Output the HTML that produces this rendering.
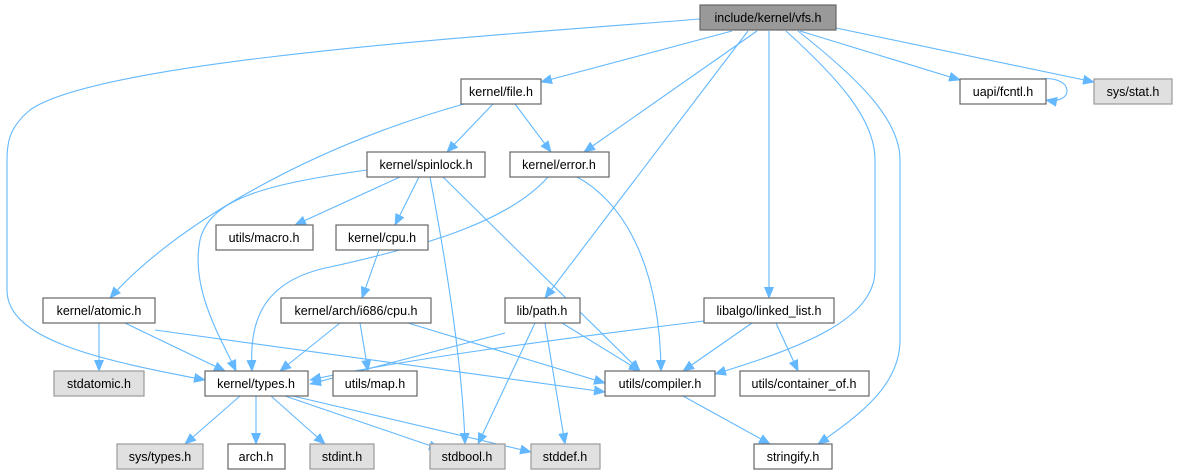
<!DOCTYPE html>
<html><head><meta charset="utf-8"><style>
body{margin:0;background:#fff;}
svg{display:block;}
text{font-family:"Liberation Sans",Helvetica,sans-serif;font-size:12.5px;fill:#000;text-anchor:middle;}
.e{fill:none;stroke:#63b8ff;stroke-width:1.1;marker-end:url(#a);}
.n{fill:#fff;stroke:#666;stroke-width:1.2;}
.g{fill:#e0e0e0;stroke:#999;stroke-width:1.2;}
</style></head><body>
<svg width="1179" height="476" viewBox="0 0 1179 476" xmlns="http://www.w3.org/2000/svg">
<defs><marker id="a" markerWidth="12" markerHeight="10" refX="11" refY="5" orient="auto" markerUnits="userSpaceOnUse"><path d="M0,0 L12,5 L0,10 z" fill="#63b8ff"/></marker></defs>
<path class="e" d="M700,19 C500,35 100,60 30,110 C8,128 7,145 7,160 L7,290 C7,340 100,360 205,380"/>
<path class="e" d="M732,31 L541,82"/>
<path class="e" d="M757,31 L584,152"/>
<path class="e" d="M748,31 L545,298"/>
<path class="e" d="M769,31 L769,298"/>
<path class="e" d="M786,31 C840,80 875,120 875,160 L875,270 C875,320 800,348 715,374"/>
<path class="e" d="M798,31 C860,80 900,120 900,160 L900,340 C900,385 860,415 818,444"/>
<path class="e" d="M800,31 L960,80"/>
<path class="e" d="M836,28 L1094,82"/>
<path class="e" d="M1040,79 C1075,75 1075,105 1046,100"/>
<path class="e" d="M493,104 L447,152"/>
<path class="e" d="M515,104 L551,152"/>
<path class="e" d="M464,104 C300,150 170,230 110,298"/>
<path class="e" d="M367,170 C260,185 210,200 200,240 C190,290 222,340 236,371"/>
<path class="e" d="M400,177 L295,225"/>
<path class="e" d="M419,177 L395,225"/>
<path class="e" d="M430,177 C440,230 462,350 465,444"/>
<path class="e" d="M443,177 L640,371"/>
<path class="e" d="M548,177 C510,220 430,245 330,267 C255,282 250,330 252,371"/>
<path class="e" d="M577,177 C620,200 660,260 661,371"/>
<path class="e" d="M379,250 L362,298"/>
<path class="e" d="M340,323 L280,371"/>
<path class="e" d="M360,323 L368,371"/>
<path class="e" d="M408,323 L605,383"/>
<path class="e" d="M99,323 L99,371"/>
<path class="e" d="M125,323 L225,371"/>
<path class="e" d="M155,330 L605,392"/>
<path class="e" d="M505,333 L310,384"/>
<path class="e" d="M535,323 L478,444"/>
<path class="e" d="M545,323 L565,444"/>
<path class="e" d="M562,323 L640,371"/>
<path class="e" d="M704,321 C550,340 400,360 310,380"/>
<path class="e" d="M752,323 L683,371"/>
<path class="e" d="M776,323 L798,371"/>
<path class="e" d="M240,396 L185,444"/>
<path class="e" d="M256,396 L256,444"/>
<path class="e" d="M271,396 L325,444"/>
<path class="e" d="M285,396 L440,449"/>
<path class="e" d="M293,396 L531,452"/>
<path class="e" d="M683,396 L770,444"/>
<rect x="700" y="5" width="136" height="25" fill="#999" stroke="#666" stroke-width="1.2"/><text x="768" y="22">include/kernel/vfs.h</text>
<rect class="n" x="461" y="79" width="80" height="25"/><text x="501" y="96">kernel/file.h</text>
<rect class="n" x="367" y="152" width="118" height="25"/><text x="426" y="169">kernel/spinlock.h</text>
<rect class="n" x="510" y="152" width="99" height="25"/><text x="559" y="169">kernel/error.h</text>
<rect class="n" x="960" y="79" width="86" height="25"/><text x="1003" y="96">uapi/fcntl.h</text>
<rect class="g" x="1094" y="79" width="78" height="25"/><text x="1133" y="96">sys/stat.h</text>
<rect class="n" x="216" y="225" width="97" height="25"/><text x="264" y="242">utils/macro.h</text>
<rect class="n" x="336" y="225" width="92" height="25"/><text x="382" y="242">kernel/cpu.h</text>
<rect class="n" x="43" y="298" width="112" height="25"/><text x="99" y="315">kernel/atomic.h</text>
<rect class="n" x="281" y="298" width="150" height="25"/><text x="356" y="315">kernel/arch/i686/cpu.h</text>
<rect class="n" x="505" y="298" width="75" height="25"/><text x="542" y="315">lib/path.h</text>
<rect class="n" x="704" y="298" width="130" height="25"/><text x="769" y="315">libalgo/linked_list.h</text>
<rect class="g" x="54" y="371" width="90" height="25"/><text x="99" y="388">stdatomic.h</text>
<rect class="n" x="205" y="371" width="103" height="25"/><text x="256" y="388">kernel/types.h</text>
<rect class="n" x="333" y="371" width="84" height="25"/><text x="375" y="388">utils/map.h</text>
<rect class="n" x="605" y="371" width="110" height="25"/><text x="660" y="388">utils/compiler.h</text>
<rect class="n" x="740" y="371" width="129" height="25"/><text x="804" y="388">utils/container_of.h</text>
<rect class="g" x="117" y="444" width="86" height="25"/><text x="160" y="461">sys/types.h</text>
<rect class="n" x="228" y="444" width="57" height="25"/><text x="256" y="461">arch.h</text>
<rect class="g" x="310" y="444" width="64" height="25"/><text x="342" y="461">stdint.h</text>
<rect class="g" x="430" y="444" width="75" height="25"/><text x="467" y="461">stdbool.h</text>
<rect class="g" x="531" y="444" width="69" height="25"/><text x="565" y="461">stddef.h</text>
<rect class="n" x="754" y="444" width="78" height="25"/><text x="793" y="461">stringify.h</text>
</svg>
</body></html>
